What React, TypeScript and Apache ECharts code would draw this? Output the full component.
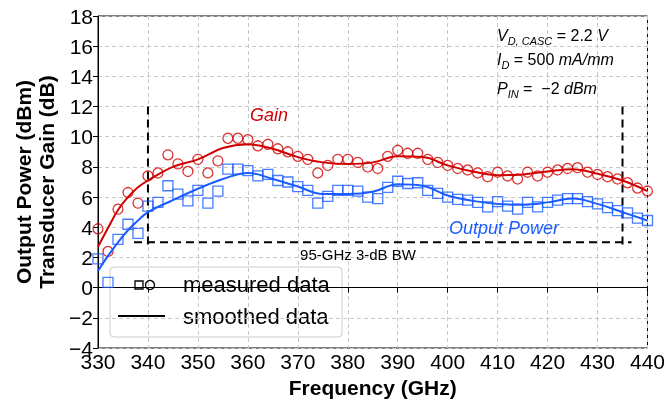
import React, { useEffect, useRef } from "react";
import * as echarts from "echarts";

const freqs = [330,332,334,336,338,340,342,344,346,348,350,352,354,356,358,360,362,364,366,368,370,372,374,376,378,380,382,384,386,388,390,392,394,396,398,400,402,404,406,408,410,412,414,416,418,420,422,424,426,428,430,432,434,436,438,440];
const gainMeasured = [3.9,2.4,5.2,6.3,5.6,7.4,7.6,8.8,8.2,7.7,8.5,7.6,8.4,9.9,9.9,9.8,9.4,9.5,9.2,9.0,8.7,8.5,7.6,8.1,8.5,8.5,8.3,8.0,7.9,8.7,9.1,8.9,8.9,8.5,8.3,8.1,7.9,7.8,7.6,7.35,7.65,7.4,7.2,7.65,7.4,7.65,7.8,7.9,7.95,7.65,7.5,7.35,7.2,6.95,6.6,6.4];
const poutMeasured = [1.9,0.35,3.2,4.2,3.6,5.4,5.65,6.75,6.2,5.75,6.45,5.6,6.4,7.85,7.85,7.75,7.4,7.5,7.1,7.0,6.7,6.45,5.6,6.05,6.45,6.45,6.4,6.0,5.9,6.65,7.05,6.9,6.95,6.45,6.25,6.0,5.85,5.8,5.65,5.35,5.7,5.4,5.2,5.65,5.35,5.65,5.8,5.9,5.9,5.7,5.55,5.3,5.1,4.95,4.6,4.45];

const smoothFreqs = [330,332,334,336,338,340,345,350,355,360,365,370,375,380,385,390,395,400,405,410,415,420,425,430,435,440];
const gainSmoothed = [2.7,3.95,5.15,6.0,6.65,7.1,8.0,8.5,9.25,9.5,9.2,8.65,8.3,8.2,8.3,8.7,8.65,8.1,7.7,7.45,7.5,7.7,7.85,7.55,7.1,6.4];
const poutSmoothed = [1.1,2.1,3.0,3.8,4.45,5.0,5.8,6.55,7.2,7.6,7.2,6.7,6.2,6.2,6.35,6.85,6.75,6.1,5.75,5.55,5.5,5.65,5.9,5.55,5.0,4.45];

const bwLeft = [[340, 12], [340, 2.6]];
const bwRight = [[435, 12], [435, 2.6]];
const bwHoriz = [[337.2, 3], [436.8, 3]];

const xTicks = { min: 330, max: 440, interval: 10 };
const yTicks = { min: -4, max: 18, interval: 2 };

const RED = "#d00000";
const BLUE = "#1a5cff";
const FONT = "Liberation Sans, Arial, sans-serif";

export default function App() {
  const ref = useRef<HTMLDivElement>(null);
  useEffect(() => {
    if (!ref.current) return;
    const chart = echarts.init(ref.current, undefined, { renderer: "svg" });
    const zip = (xs: number[], ys: number[]) => xs.map((x, i) => [x, ys[i]]);
    const dashed = { color: "#000", width: 2, type: [8, 5] as any };
    const rich = {
      i: { fontSize: 16, fontStyle: "italic", fill: "#000", lineHeight: 22, fontFamily: FONT },
      n: { fontSize: 16, fill: "#000", lineHeight: 22, fontFamily: FONT },
      s: { fontSize: 11, fontStyle: "italic", fill: "#000", lineHeight: 22, verticalAlign: "bottom", fontFamily: FONT },
    };
    chart.setOption({
      animation: false,
      textStyle: { fontFamily: FONT },
      grid: { left: 98, right: 18, top: 16, bottom: 63, show: true, borderColor: "#000", borderWidth: 1, backgroundColor: "transparent" },
      xAxis: {
        type: "value", min: xTicks.min, max: xTicks.max, interval: xTicks.interval,
        name: "Frequency (GHz)", nameLocation: "middle", nameGap: 27,
        nameTextStyle: { fontSize: 21, fontWeight: "bold", color: "#000", fontFamily: FONT },
        axisLine: { lineStyle: { color: "#000", width: 1 } },
        axisTick: { show: true, length: 5, lineStyle: { color: "#000" } },
        axisLabel: { fontSize: 21, color: "#000", margin: 3, fontFamily: FONT },
        splitLine: { show: true, lineStyle: { color: "#c8c8c8", type: [4, 3], width: 1 } },
      },
      yAxis: {
        type: "value", min: yTicks.min, max: yTicks.max, interval: yTicks.interval,
        name: "Output Power (dBm)\nTransducer Gain (dB)", nameLocation: "middle", nameGap: 39,
        nameTextStyle: { fontSize: 21, fontWeight: "bold", color: "#000", lineHeight: 23, fontFamily: FONT },
        axisLine: { lineStyle: { color: "#000", width: 1 } },
        axisTick: { show: true, length: 5, lineStyle: { color: "#000" } },
        axisLabel: { fontSize: 21, color: "#000", margin: 5, fontFamily: FONT, formatter: (v: number) => String(v).replace("-", "\u2212") },
        splitLine: { show: true, lineStyle: { color: "#c8c8c8", type: [4, 3], width: 1 } },
      },
      series: [
        { type: "line", data: bwLeft, symbol: "none", lineStyle: dashed, z: 1 },
        { type: "line", data: bwRight, symbol: "none", lineStyle: dashed, z: 1 },
        { type: "line", data: bwHoriz, symbol: "none", lineStyle: dashed, z: 1 },
        { type: "scatter", data: zip(freqs, gainMeasured), symbol: "circle", symbolSize: 10, itemStyle: { color: "rgba(0,0,0,0)", borderColor: RED, borderWidth: 1.3 }, z: 3 },
        { type: "scatter", data: zip(freqs, poutMeasured), symbol: "rect", symbolSize: 10, itemStyle: { color: "rgba(0,0,0,0)", borderColor: BLUE, borderWidth: 1.3 }, z: 3 },
        { type: "line", data: zip(smoothFreqs, gainSmoothed), smooth: 0.4, symbol: "none", lineStyle: { color: RED, width: 2 }, z: 4 },
        { type: "line", data: zip(smoothFreqs, poutSmoothed), smooth: 0.4, symbol: "none", lineStyle: { color: BLUE, width: 2 }, z: 4 },
      ],
      graphic: [
        { type: "text", x: 250, y: 115, style: { text: "Gain", fill: RED, font: `italic 18px ${FONT}`, textVerticalAlign: "middle" }, z: 10 },
        { type: "text", x: 449, y: 228, style: { text: "Output Power", fill: BLUE, font: `italic 18px ${FONT}`, textVerticalAlign: "middle" }, z: 10 },
        { type: "text", x: 358, y: 254, style: { text: "95-GHz 3-dB BW", fill: "#000", font: `15px ${FONT}`, textAlign: "center", textVerticalAlign: "middle" }, z: 10 },
        { type: "text", x: 497, y: 24, z: 10, style: { text: "{i|V}{s|D, CASC}{n| = 2.2 }{i|V}", rich } },
        { type: "text", x: 497, y: 48, z: 10, style: { text: "{i|I}{s|D}{n| = 500 }{i|mA/mm}", rich } },
        { type: "text", x: 497, y: 77, z: 10, style: { text: "{i|P}{s|IN}{n| =  \u22122 }{i|dBm}", rich } },
        {
          type: "group", x: 110, y: 267, z: 20,
          children: [
            { type: "rect", shape: { x: 0, y: 0, width: 232, height: 70, r: 4 }, style: { fill: "rgba(255,255,255,0.85)", stroke: "#cccccc", lineWidth: 1 } },
            { type: "rect", shape: { x: 25, y: 14, width: 8, height: 8 }, style: { fill: "none", stroke: "#000", lineWidth: 1.3 } },
            { type: "circle", shape: { cx: 40, cy: 18, r: 4.5 }, style: { fill: "none", stroke: "#000", lineWidth: 1.3 } },
            { type: "text", x: 73, y: 17, style: { text: "measured data", fill: "#000", font: `22px ${FONT}`, textVerticalAlign: "middle" } },
            { type: "line", shape: { x1: 8, y1: 49, x2: 55, y2: 49 }, style: { stroke: "#000", lineWidth: 2 } },
            { type: "text", x: 73, y: 49, style: { text: "smoothed data", fill: "#000", font: `22px ${FONT}`, textVerticalAlign: "middle" } },
          ],
        },
      ],
    });
    return () => chart.dispose();
  }, []);
  return <div ref={ref} style={{ position: "fixed", left: 0, top: 0, width: 668, height: 411 }} />;
}
